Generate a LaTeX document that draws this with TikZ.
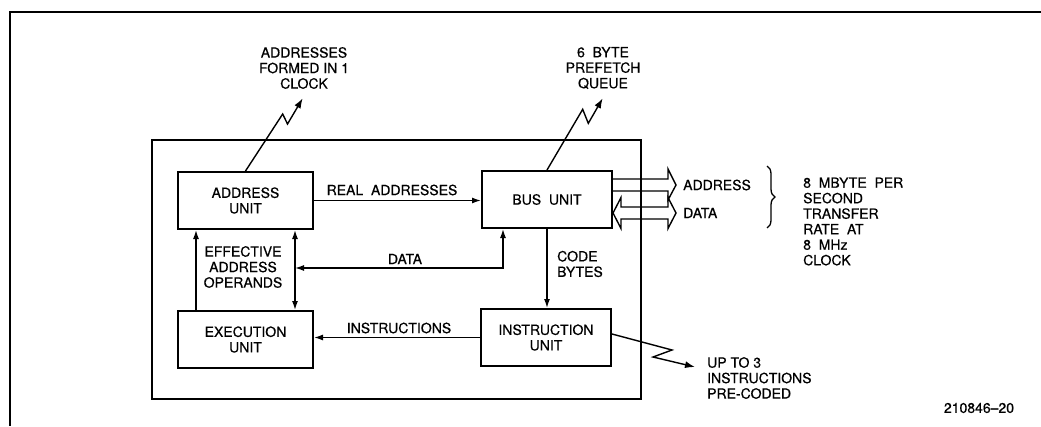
\documentclass[tikz,border=0pt]{standalone}
\usepackage{fontspec}
\setmainfont{TeX Gyre Heros}[FakeBold=0.5]
\usetikzlibrary{arrows.meta,decorations.pathreplacing}
\begin{document}
\begin{tikzpicture}[x=1pt,y=-1pt,
  every node/.style={font=\fontsize{14}{15.5}\selectfont,inner sep=0pt},
  unit/.style={draw,line width=2pt,minimum height=57pt,align=center},
  lbl/.style={align=center},
  lbll/.style={align=left,anchor=west},
  conn/.style={line width=1.4pt,-{Latex[length=9pt,width=6pt]}},
  dconn/.style={line width=1.4pt,{Latex[length=9pt,width=6pt]}-{Latex[length=9pt,width=6pt]}},
  zap/.style={line width=1.4pt,-{Latex[length=10pt,width=7pt]}},
  bus/.style={line width=1.4pt,line join=miter},
  frame/.style={line width=1.6pt}
]
\useasboundingbox (0,0) rectangle (1041,426);
% outer frame
\draw[frame] (1041,12) -- (10,12) -- (10,426);
% chip outline
\node[draw,line width=1.5pt,minimum width=489pt,minimum height=259pt] (chip) at (396.5,269.5) {};
% units
\node[unit,minimum width=135pt] (au) at (245.5,200.5) {ADDRESS\\UNIT};
\node[unit,minimum width=130pt] (bu) at (547,199.5) {BUS\ \ UNIT};
\node[unit,minimum width=135pt] (eu) at (245.5,339.5) {EXECUTION\\UNIT};
\node[unit,minimum width=130pt] (iu) at (546,337.5) {INSTRUCTION\\UNIT};
% connectors
\draw[conn] (au.east) -- (au.east -| bu.west);
\node[lbl] (lra) at (392,190) {REAL\ \ ADDRESSES};
\draw[conn] ([xshift=-49.5pt]eu.north) -- ([xshift=-49.5pt]au.south);
\draw[dconn] ([xshift=49.5pt]au.south) -- ([xshift=49.5pt]eu.north);
\node[lbl] (lea) at (243,267) {EFFECTIVE\\ADDRESS\\OPERANDS};
\coordinate (bd) at ([xshift=-44pt]bu.south);
\coordinate (dl) at (295,268);
\draw[dconn] (dl) -- (dl -| bd) -- (bd);
\node[lbl] (ldata) at (405,259) {DATA};
\draw[conn] (bu.south) -- (bu.south |- iu.north);
\node[lbll] (lcb) at (557,264) {CODE\\BYTES};
\draw[conn] (iu.west) -- (iu.west -| eu.east);
\node[lbl] (lins) at (399,328) {INSTRUCTIONS};
% lightning arrows
\coordinate (z1) at (302.7,98.3);
\draw[zap] (au.north) -- (282.7,114) -- (287.5,124) -- (z1);
\node[lbl] (laf) at (304,68) {ADDRESSES\\FORMED IN 1\\CLOCK};
\coordinate (z2) at (602.7,98.3);
\draw[zap] (bu.north) -- (582.7,109.3) -- (588.3,123.3) -- (z2);
\node[lbl] (lpq) at (603,68) {6\ \ BYTE\\PREFETCH\\QUEUE};
\coordinate (z3) at (695,367);
\draw[zap] ([yshift=3.5pt]iu.east) -- (672,350) -- (653,357) -- (z3);
\node[lbll] (lup) at (707,378) {UP TO 3\\INSTRUCTIONS\\PRE-CODED};
% bus arrows (hollow)
\draw[bus] (bu.east |- 0,179) -- (668,179) -- (668,169) -- (676,185) -- (668,200) -- (668,191) -- (bu.east |- 0,191);
\draw[bus] (613,213) -- (621,197.5) -- (621,207) -- (668,207) -- (668,197.5) -- (676,213) -- (668,228.5) -- (668,219) -- (621,219) -- (621,228.5) -- cycle;
\node[anchor=west] (laddr) at (683,185) {ADDRESS};
\node[anchor=west] (ldat) at (683,213) {DATA};
\draw[line width=1.3pt,decorate,decoration={brace,amplitude=8pt}] (767,166) -- (767,228);
\node[lbll] (lrate) at (803,221.5) {8\ \ MBYTE\ \ PER\\SECOND\\TRANSFER\\RATE\ \ AT\\8\ \ MHz\\CLOCK};
\node (fig) at (979,408) {210846--20};
\end{tikzpicture}
\end{document}
